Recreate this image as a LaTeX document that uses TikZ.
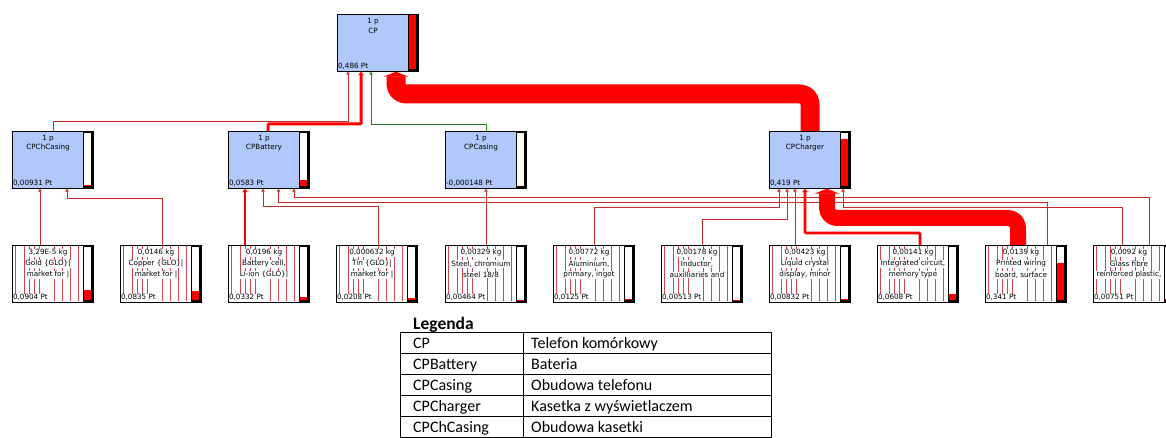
\documentclass[tikz,border=0pt]{standalone}
\usepackage{fontspec}
\setmainfont{DejaVu Sans}
\newfontfamily\legfont{Carlito}
\usetikzlibrary{arrows.meta,calc,backgrounds}
\definecolor{boxblue}{RGB}{176,200,250}
\definecolor{linered}{RGB}{198,40,40}
\definecolor{flowred}{RGB}{255,0,0}
\definecolor{flowgreen}{RGB}{40,130,40}
\definecolor{vlinered}{RGB}{205,70,80}

\newcommand\lvlproc[6]{%
  \node[lvlbox] (#1) at (#2,#3) {};
  \draw[barframe] (#2+71.5,#3+1) rectangle (#2+80,#3+56);
  \fill[flowred] (#2+72.2,#3+55.3) rectangle (#2+79.3,{#3+55.3-54.6*#4});
  \node[txt] (#1-q) at (#2+36,#3+8) {1 p};
  \node[txt] (#1-n) at (#2+36,#3+17) {#5};
  \node[txt,anchor=south west] (#1-v) at (#2+0.5,#3+56) {#6};
}
\newcommand\leafproc[7]{%
  \node[leafbox] (#1) at (#2,245) {};
  \foreach \off in {3.5,12.5,17.5,22.5,27.5,42.5,50.5,58.5,66.5}
    \draw[vline] (#2+\off,245.6) -- (#2+\off,301.4);
  \node[wtxt] (#1-a) at (#2+36,253) {#4};
  \node[wtxt] (#1-b) at (#2+36,264) {#5};
  \node[wtxt] (#1-c) at (#2+36,275) {#6};
  \node[wtxt,anchor=south west] (#1-v) at (#2+0.5,301) {#7};
  \draw[barframe] (#2+71.5,246) rectangle (#2+80,301);
  \fill[flowred] (#2+72.2,300.3) rectangle (#2+79.3,{300.3-53.6*#3});
}

\begin{document}
\begin{tikzpicture}[x=1pt,y=-1pt,
  lvlbox/.style={draw=black,line width=0.7pt,fill=boxblue,minimum width=81pt,minimum height=57pt,inner sep=0pt,anchor=north west},
  leafbox/.style={draw=black,line width=0.7pt,fill=white,minimum width=81pt,minimum height=57pt,inner sep=0pt,anchor=north west},
  barframe/.style={draw=black,line width=1.4pt,fill=white},
  txt/.style={font=\fontsize{7.2}{8}\selectfont,inner sep=0.4pt},
  wtxt/.style={txt,fill=white},
  vline/.style={draw=vlinered,line width=0.6pt},
  thinc/.style={draw=linered,line width=0.8pt,-{Triangle[length=3pt,width=3.5pt]}},
  medc/.style={draw=flowred,line width=#1,-{Triangle[length=3.5pt,width=5.5pt]}},
  greenc/.style={draw=flowgreen,line width=0.8pt,-{Triangle[length=3pt,width=3.5pt]}},
  bigc/.style={draw=flowred,line width=#1,line join=round,rounded corners=10pt,-{Triangle[length=5pt,width=25pt]}},
  legcell/.style={font=\legfont\fontsize{16}{18}\selectfont,anchor=base west,inner sep=0pt},
  legrule/.style={line width=0.9pt},
]
\useasboundingbox (0,0) rectangle (1166,438);
\clip (0,0) rectangle (1166,438);

% top level
\lvlproc{cp}{337}{14}{1}{CP}{0,486 Pt}
% second level
\lvlproc{chc}{12}{131}{0.019}{CPChCasing}{0,00931 Pt}
\lvlproc{cpb}{228}{131}{0.12}{CPBattery}{0,0583 Pt}
\lvlproc{cpc}{445}{131}{0}{CPCasing}{-0,000148 Pt}
\lvlproc{cpg}{769}{131}{0.862}{CPCharger}{0,419 Pt}

% leaves
\leafproc{gold}{12}{0.186}{3,29E-5 kg}{Gold \{GLO\}|}{market for |}{0,0904 Pt}
\leafproc{copper}{120}{0.172}{0,0146 kg}{Copper \{GLO\}|}{market for |}{0,0835 Pt}
\leafproc{bcell}{228}{0.068}{0,0196 kg}{Battery cell,}{Li-ion \{GLO\}|}{0,0332 Pt}
\leafproc{tin}{336}{0.043}{0,000632 kg}{Tin \{GLO\}|}{market for |}{0,0208 Pt}
\leafproc{steel}{445}{0.0095}{0,00329 kg}{Steel, chromium}{steel 18/8}{0,00464 Pt}
\leafproc{alu}{553}{0.026}{0,00772 kg}{Aluminium,}{primary, ingot}{0,0125 Pt}
\leafproc{induct}{661}{0.0106}{0,00178 kg}{Inductor,}{auxilliaries and}{0,00513 Pt}
\leafproc{lcd}{769}{0.017}{0,00423 kg}{Liquid crystal}{display, minor}{0,00832 Pt}
\leafproc{ic}{877}{0.125}{0,00141 kg}{Integrated circuit,}{memory type}{0,0608 Pt}
\leafproc{pwb}{985}{0.70}{0,0139 kg}{Printed wiring}{board, surface}{0,341 Pt}
\leafproc{glass}{1093}{0.0155}{0,0092 kg}{Glass fibre}{reinforced plastic,}{0,00751 Pt}

\begin{scope}[on background layer]
\fill[white] (0,0) rectangle (1166,438);
% to CP
\draw[thinc] ($(chc.north west)+(41,0)$) -- ++(0,-10) -| ($(cp.south west)+(11,0)$);
\draw[greenc] ($(cpc.north west)+(41,0)$) -- ++(0,-7) -| ($(cp.south west)+(34,0)$);
\draw[medc=3pt,rounded corners=1pt] ($(cpb.north west)+(40,0)$) -- ++(0,-7) -| ($(cp.south west)+(24,0)$);
% to CPChCasing
\draw[thinc] ($(gold.north west)+(28,0)$) -- ($(chc.south west)+(28,0)$);
\draw[thinc] ($(copper.north west)+(42,0)$) -- ++(0,-47) -| ($(chc.south west)+(55,0)$);
% to CPBattery
\draw[thinc] ($(tin.north west)+(42,0)$) -- ++(0,-39) -| ($(cpb.south west)+(35,0)$);
\draw[thinc] ($(pwb.north west)+(62,0)$) -- ++(0,-43) -| ($(cpb.south west)+(50.5,0)$);
\draw[thinc] ($(glass.north west)+(56,0)$) -- ++(0,-48) -| ($(cpb.south west)+(66,0)$);
\draw[medc=2pt] ($(bcell.north west)+(17,0)$) -- ($(cpb.south west)+(17,0)$);
% to CPCasing
\draw[thinc] ($(steel.north west)+(41,0)$) -- ($(cpc.south west)+(41,0)$);
% to CPCharger
\draw[thinc] ($(alu.north west)+(41,0)$) -- ++(0,-38) -| ($(cpg.south west)+(10,0)$);
\draw[thinc] ($(induct.north west)+(41,0)$) -- ++(0,-26) -| ($(cpg.south west)+(18,0)$);
\draw[thinc] ($(lcd.north west)+(26,0)$) -- ($(cpg.south west)+(26,0)$);
\draw[thinc] ($(glass.north west)+(29,0)$) -- ++(0,-38) -| ($(cpg.south west)+(74,0)$);
\draw[medc=2.6pt,rounded corners=1pt] ($(ic.north west)+(43,0)$) -- ++(0,-12) -| ($(cpg.south west)+(36,0)$);
\draw[bigc=16pt] ($(pwb.north west)+(33,0)$) -- ++(0,-27) -| ($(cpg.south west)+(58,0)$);
\draw[bigc=19pt] ($(cpg.north west)+(41,0)$) -- ++(0,-37) -| ($(cp.south west)+(59,0)$);
\end{scope}

% legend
\node[font=\legfont\bfseries\fontsize{17.5}{20}\selectfont,anchor=base west,inner sep=0pt] (legtitle) at (413,329) {Legenda};
\draw[legrule] (400,332) rectangle (771,437);
\foreach \yy in {353,374,395,416} \draw[legrule] (400,\yy) -- (771,\yy);
\draw[legrule] (523,332) -- (523,437);
\node[legcell] (k1) at (413,348) {CP};
\node[legcell] (v1) at (531,348) {Telefon komórkowy};
\node[legcell] (k2) at (413,369) {CPBattery};
\node[legcell] (v2) at (531,369) {Bateria};
\node[legcell] (k3) at (413,390) {CPCasing};
\node[legcell] (v3) at (531,390) {Obudowa telefonu};
\node[legcell] (k4) at (413,411) {CPCharger};
\node[legcell] (v4) at (531,411) {Kasetka z wyświetlaczem};
\node[legcell] (k5) at (413,432) {CPChCasing};
\node[legcell] (v5) at (531,432) {Obudowa kasetki};
\end{tikzpicture}
\end{document}
